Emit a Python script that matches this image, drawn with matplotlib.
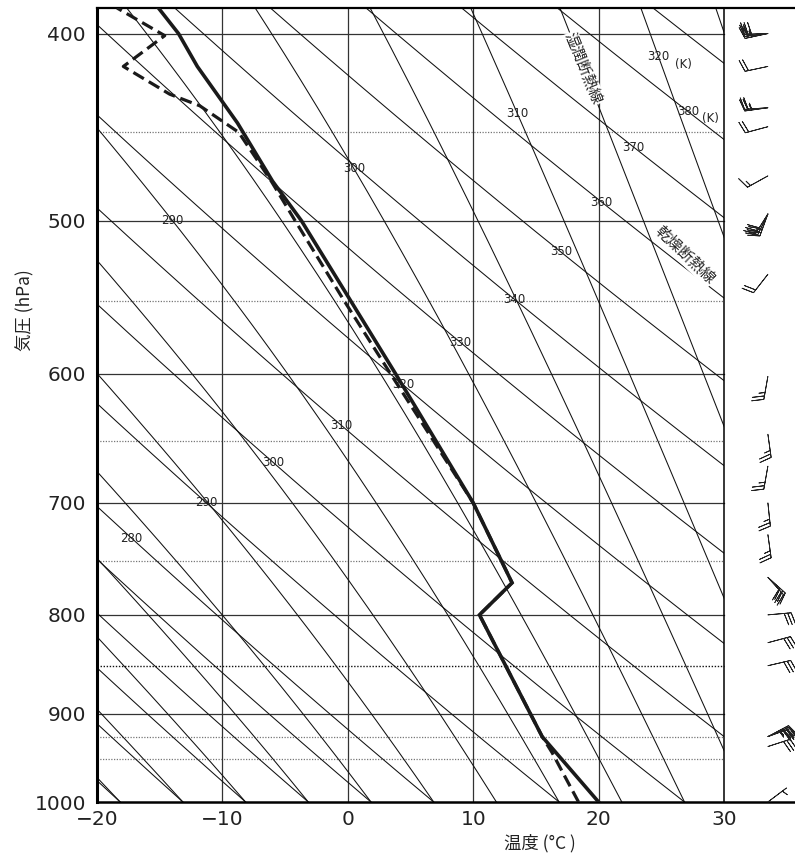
import numpy as np
import matplotlib.pyplot as plt
from matplotlib.patches import Rectangle
from matplotlib.ticker import FixedLocator, NullLocator, FixedFormatter

plt.rcParams['font.family'] = ['DejaVu Sans', 'Noto Sans CJK JP']
JP = ['Noto Sans CJK JP', 'DejaVu Sans']

# sounding: temperature (solid) and dew point (dashed)
p_temp = [1000, 925, 800, 770, 700, 600, 500, 477, 445, 416, 400, 388]
t_temp = [20.0, 15.5, 10.5, 13.1, 10.0, 3.8, -3.7, -6.0, -8.8, -12.0, -13.5, -15.1]
p_dew = [1000, 943, 925, 800, 770, 700, 600, 550, 500, 477, 450, 436, 430, 416, 401, 388]
t_dew = [18.4, 16.3, 15.5, 10.5, 13.1, 10.0, 3.4, -0.3, -4.2, -6.1, -8.7, -11.8, -14.2, -17.9, -14.6, -18.4]

# wind barbs (several overlapping observations at some levels)
wind_p = [400, 400, 400, 416, 437, 437, 447, 474, 496, 496, 496, 533,
          602, 645, 670, 700, 727, 765, 765, 800, 827, 850,
          925, 925, 925, 936, 1000]
wind_dir = [258, 263, 268, 258, 262, 266, 255, 241, 200, 206, 212, 218,
            190, 172, 190, 174, 172, 132, 138, 85, 75, 77,
            62, 66, 70, 72, 53]
wind_kt = [25, 25, 30, 20, 25, 25, 20, 15, 25, 30, 30, 20,
           25, 25, 25, 25, 25, 30, 30, 30, 30, 30,
           35, 35, 35, 30, 5]

# reference lines
dry_theta = [255, 260, 265, 270, 275, 280, 290, 300, 310, 320, 330,
             340, 350, 360, 370, 380, 390]
moist_theta = [255, 260, 265, 270, 275, 280, 285, 290, 295, 300, 305,
               310, 315, 320, 325]
dry_labels = [280, 290, 300, 310, 320, 330, 340, 350, 360, 370, 380]
dry_label_p = [730, 700, 667, 638, 608, 578, 549, 519, 489, 458, 439]
moist_labels = [290, 300, 310, 320]
moist_label_p = [500, 470, 440, 411]

p_grid = [400, 500, 600, 700, 800, 900]
p_dot = [450, 550, 650, 750, 925, 950]
t_grid = [-10, 0, 10, 20]

P_TOP = 388
T_MIN, T_MAX = -20, 30

Rd, cp, Lv, eps = 287.04, 1005.7, 2.501e6, 0.622


def dry_T(theta, p):
    return theta * (np.asarray(p) / 1000.0) ** 0.286 - 273.15


def moist_curve(thw):
    def f(T, p):
        es = 6.112 * np.exp(17.67 * (T - 273.15) / (T - 29.65))
        rs = eps * es / (p - es)
        return (Rd * T + Lv * rs) / (cp + Lv * Lv * rs * eps / (Rd * T * T))
    lnp = np.arange(np.log(1000), np.log(370), -0.004)
    T = np.empty_like(lnp)
    T[0] = thw
    h = lnp[1] - lnp[0]
    for i in range(len(lnp) - 1):
        x, y = lnp[i], T[i]
        k1 = f(y, np.exp(x))
        k2 = f(y + h * k1 / 2, np.exp(x + h / 2))
        k3 = f(y + h * k2 / 2, np.exp(x + h / 2))
        k4 = f(y + h * k3, np.exp(x + h))
        T[i + 1] = y + h * (k1 + 2 * k2 + 2 * k3 + k4) / 6
    return np.exp(lnp), T - 273.15


fig = plt.figure(figsize=(7.95, 8.59), dpi=100)
ax = fig.add_axes([97 / 795, 57 / 859, 698 / 795, 794 / 859])
ax.set_yscale('log')
ax.set_ylim(1000, P_TOP)
ax.set_xlim(T_MIN, T_MIN + 698 / 12.54)

clip = Rectangle((T_MIN, P_TOP), T_MAX - T_MIN, 1000 - P_TOP,
                 transform=ax.transData, fill=False, visible=False)
ax.add_patch(clip)

# grid
for p in p_grid:
    ax.plot([T_MIN, T_MAX], [p, p], color='#333333', lw=0.9, zorder=1)
for p in p_dot:
    ax.plot([T_MIN, T_MAX], [p, p], color='#777777', lw=0.9,
            ls=(0, (1, 1.2)), zorder=1)
ax.plot([T_MIN, T_MAX], [850, 850], color='#111111', lw=1.0,
        ls=(0, (1, 1.2)), zorder=1)
for t in t_grid:
    ax.plot([t, t], [1000, P_TOP], color='#333333', lw=0.9, zorder=1)
ax.plot([T_MAX, T_MAX], [1000, P_TOP], color='black', lw=1.1, zorder=3)

# dry adiabats
pp = np.geomspace(1000, 370, 200)
for th in dry_theta:
    ln, = ax.plot(dry_T(th, pp), pp, color='#111111', lw=0.75, zorder=2)
    ln.set_clip_path(clip)

# moist adiabats
moist = {}
for th in moist_theta:
    mp, mt = moist_curve(th)
    moist[th] = (mp, mt)
    ln, = ax.plot(mt, mp, color='#111111', lw=0.75, zorder=2)
    ln.set_clip_path(clip)

# labels
for th, p in zip(dry_labels, dry_label_p):
    ax.text(dry_T(th, p), p, str(th), fontsize=8.5, ha='center',
            va='center', color='#222222', zorder=4)
for th, p in zip(moist_labels, moist_label_p):
    mp, mt = moist[th]
    t = np.interp(np.log(p), np.log(mp[::-1]), mt[::-1])
    ax.text(t, p, str(th), fontsize=8.5, ha='center', va='center',
            color='#222222', zorder=4)
ax.annotate('(K)', xy=(dry_T(380, 439), 439), xytext=(16, -5),
            textcoords='offset points', fontsize=8.5, ha='center',
            va='center', color='#222222')
mp, mt = moist[320]
ax.annotate('(K)', xy=(np.interp(np.log(411), np.log(mp[::-1]), mt[::-1]), 411),
            xytext=(18, -6), textcoords='offset points', fontsize=8.5,
            ha='center', va='center', color='#222222')

bb = dict(facecolor='white', edgecolor='none', pad=0.3)
ax.text(18.8, 417, '湿潤断熱線', family=JP, fontsize=11, rotation=-68,
        ha='center', va='center', color='#222222', bbox=bb, zorder=4)
ax.text(26.9, 521, '乾燥断熱線', family=JP, fontsize=11, rotation=-43.5,
        ha='center', va='center', color='#222222', bbox=bb, zorder=4)

# sounding
ln, = ax.plot(t_dew, p_dew, color='#1a1a1a', lw=2.3, ls=(0, (3.8, 1.8)),
              zorder=5)
ln.set_clip_path(clip)
ln, = ax.plot(t_temp, p_temp, color='#1a1a1a', lw=2.6, zorder=6,
              solid_joinstyle='miter')
ln.set_clip_path(clip)

# wind barbs
wd = np.radians(wind_dir)
ws = np.array(wind_kt, dtype=float)
u = -ws * np.sin(wd)
v = -ws * np.cos(wd)
ax.barbs(np.full(len(wind_p), 33.5), wind_p, u, v, length=5.8,
         sizes=dict(spacing=0.15, height=0.5, width=0.3),
         linewidth=0.6, color='#222222', zorder=5, clip_on=False)

# axes styling
ax.spines['right'].set_visible(False)
ax.spines['left'].set_linewidth(2.2)
ax.spines['bottom'].set_linewidth(1.8)
ax.spines['top'].set_linewidth(1.6)

ax.yaxis.set_major_locator(FixedLocator([400, 500, 600, 700, 800, 900, 1000]))
ax.yaxis.set_major_formatter(FixedFormatter(['400', '500', '600', '700', '800', '900', '1000']))
ax.yaxis.set_minor_locator(NullLocator())
ax.set_xticks([-20, -10, 0, 10, 20, 30])
ax.set_xticklabels(['\u221220', '\u221210', '0', '10', '20', '30'])
ax.tick_params(axis='both', length=0, labelsize=14.5, colors='#222222')
ax.tick_params(axis='y', pad=8)
ax.tick_params(axis='x', pad=6)

fig.text(540 / 795, 1 - 843 / 859, '温度 (°C )', family=JP, fontsize=12.5,
         ha='center', va='center', color='#222222')
fig.text(25 / 795, 1 - 310 / 859, '気圧 (hPa)', family=JP, fontsize=12.5,
         ha='center', va='center', rotation=90, color='#222222')

fig.savefig('out.png', dpi=100)
